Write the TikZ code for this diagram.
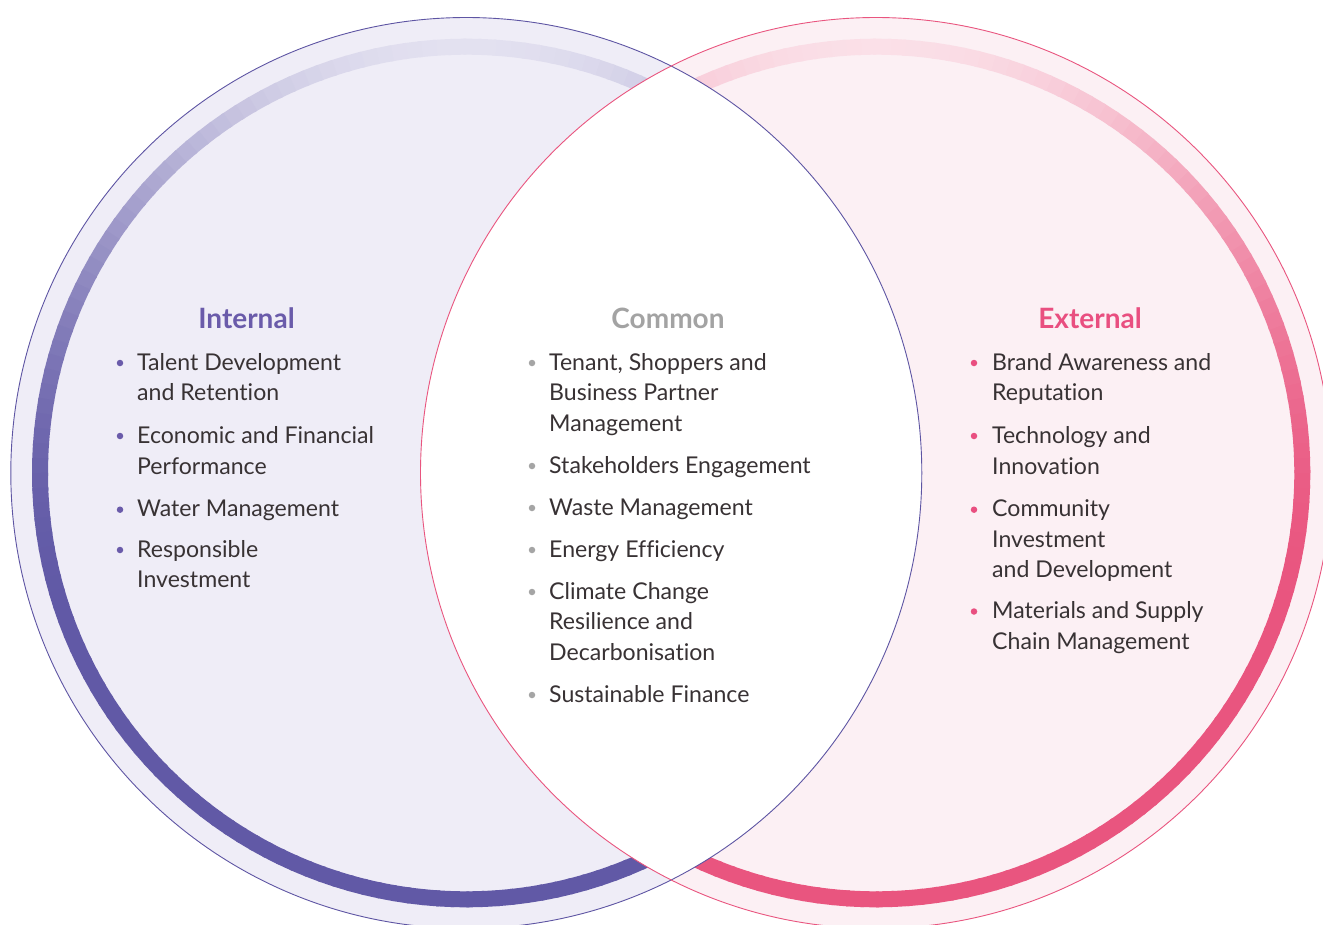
\documentclass[tikz,border=0pt]{standalone}
\usepackage{fontspec}
\setmainfont{Lato}[Ligatures=NoCommon]
\definecolor{fillL}{HTML}{EFEDF7}
\definecolor{fillR}{HTML}{FCF0F4}
\definecolor{lineL}{HTML}{5E55A3}
\definecolor{lineR}{HTML}{E9557F}
\definecolor{txt}{HTML}{383234}
\definecolor{ttlL}{HTML}{6A5BAA}
\definecolor{ttlC}{HTML}{A3A3A3}
\definecolor{ttlR}{HTML}{E94F80}
\definecolor{bulL}{HTML}{6A5BAA}
\definecolor{bulC}{HTML}{A5A5A5}
\definecolor{bulR}{HTML}{E94F80}
\definecolor{La}{HTML}{6159A6}
\definecolor{Lf}{HTML}{E6E4F2}
\definecolor{Ra}{HTML}{E9557F}
\definecolor{Rf}{HTML}{FBE3EA}
\tikzset{
  itm/.style={anchor=base west, inner sep=0pt, font=\fontsize{23.1}{28}\selectfont, text=txt},
  ttl/.style={anchor=base, inner sep=0pt, font=\fontsize{28}{32}\selectfont\bfseries},
  bul/.style={circle, inner sep=0pt, minimum size=6.5pt, draw=none},
  ringseg/.style={line width=16pt},
}
\begin{document}
\begin{tikzpicture}[x=1pt,y=-1pt]
\path[use as bounding box] (0,0) rectangle (1323,924);
\clip (0,0) rectangle (1323,924);
\coordinate (cL) at (466.3,473);
\coordinate (cR) at (876,473);
% fills
\fill[fillL] (cL) circle (455.5pt);
\fill[fillR] (cR) circle (455.5pt);
\begin{scope}
  \clip (cL) circle (455.5pt);
  \fill[white] (cR) circle (455.5pt);
\end{scope}
% left ring
\begin{scope}[even odd rule]
  \clip (-50,-50) rectangle (1400,1000) (cR) circle (455.5pt);
  \foreach \a in {60,62,...,298} {
    \pgfmathsetmacro{\yy}{473-426.3*sin(\a+1)}
    \pgfmathsetmacro{\tt}{min(1,max(0,(\yy-40)/580))}
    \pgfmathsetmacro{\pp}{100*(1-(1-\tt)*(1-\tt))}
    \draw[ringseg, La!\pp!Lf] ([shift={(\a:426.3pt)}]cL) arc[start angle=\a, delta angle=2.4, radius=426.3pt];
  }
\end{scope}
% right ring
\begin{scope}[even odd rule]
  \clip (-50,-50) rectangle (1400,1000) (cL) circle (455.5pt);
  \foreach \a in {-120,-118,...,118} {
    \pgfmathsetmacro{\yy}{473-426.3*sin(\a+1)}
    \pgfmathsetmacro{\tt}{min(1,max(0,(\yy-40)/580))}
    \pgfmathsetmacro{\pp}{100*(1-(1-\tt)*(1-\tt))}
    \draw[ringseg, Ra!\pp!Rf] ([shift={(\a:426.3pt)}]cR) arc[start angle=\a, delta angle=2.4, radius=426.3pt];
  }
\end{scope}
% outlines
\draw[lineL, line width=0.9pt] (cL) circle (455.5pt);
\draw[lineR, line width=0.9pt] (cR) circle (455.5pt);
% titles
\node[ttl, text=ttlL] (tL) at (246.5,328) {Internal};
\node[ttl, text=ttlC] (tC) at (668,328) {Common};
\node[ttl, text=ttlR] (tR) at (1090,328) {External};
% left items
\foreach \t/\y [count=\i] in {Talent Development/370, and Retention/400.7, Economic and Financial/443, Performance/474, Water Management/516.7, Responsible/557, Investment/587.5}
  \node[itm] (l\i) at (137,\y) {\t};
\foreach \y [count=\i] in {370,443,516.7,557}
  \node[bul, fill=bulL] (bl\i) at (120,\y-7) {};
% common items
\foreach \t/\y [count=\i] in {{Tenant, Shoppers and}/370, Business Partner/400.7, Management/431.4, Stakeholders Engagement/473, Waste Management/515, Energy Efficiency/557, Climate Change/599, Resilience and/629.7, Decarbonisation/660.4, Sustainable Finance/702}
  \node[itm] (c\i) at (549,\y) {\t};
\foreach \y [count=\i] in {370,473,515,557,599,702}
  \node[bul, fill=bulC] (bc\i) at (532,\y-7) {};
% external items
\foreach \t/\y [count=\i] in {Brand Awareness and/370, Reputation/400.7, Technology and/443, Innovation/474, Community/516.7, Investment/547, and Development/577.5, Materials and Supply/618.5, Chain Management/649.2}
  \node[itm] (r\i) at (992,\y) {\t};
\foreach \y [count=\i] in {370,443,516.7,618.5}
  \node[bul, fill=bulR] (br\i) at (974,\y-7) {};
\end{tikzpicture}
\end{document}
